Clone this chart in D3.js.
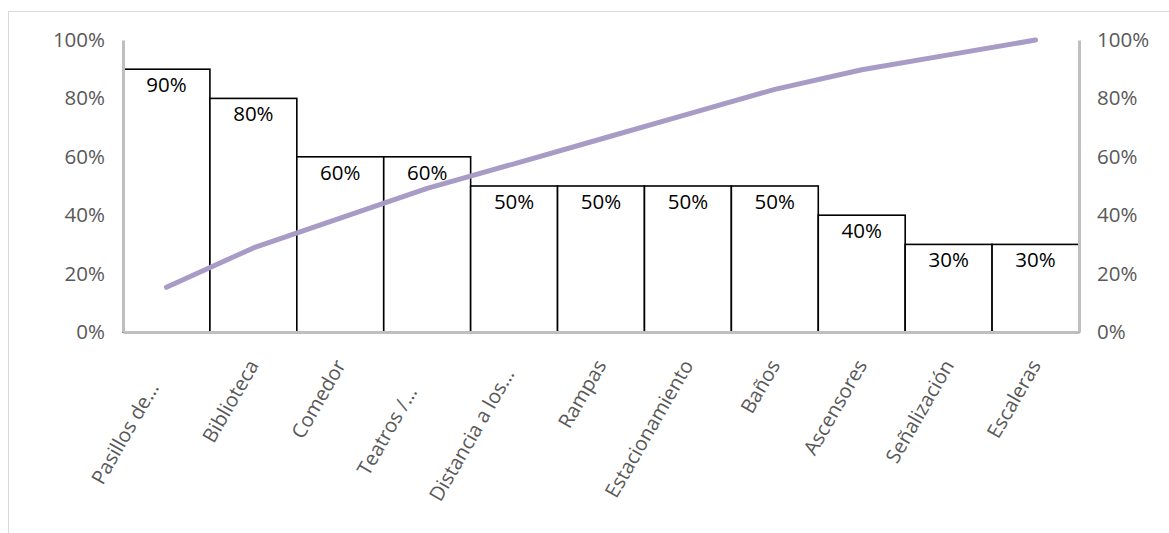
<!DOCTYPE html>
<html>
<head>
<meta charset="utf-8">
<script src="https://cdn.jsdelivr.net/npm/d3@7"></script>
<style>
  html, body { margin: 0; padding: 0; background: #fff; }
  svg { display: block; font-family: "Open Sans", sans-serif; }
</style>
</head>
<body>
<svg id="chart" width="1169" height="533"></svg>
<script>
// Categories (as shown on the axis, with truncated names)
const categories = ["Pasillos de…", "Biblioteca", "Comedor", "Teatros /…", "Distancia a los…",
  "Rampas", "Estacionamiento", "Baños", "Ascensores", "Señalización", "Escaleras"];
// Bar values (percent)
const barValues = [90, 80, 60, 60, 50, 50, 50, 50, 40, 30, 30];
// Cumulative share line (percent)
const cumulativeValues = [15.3, 28.8, 39.0, 49.2, 57.6, 66.1, 74.6, 83.1, 89.8, 94.9, 100];
// Axis tick labels
const tickValues = [0, 20, 40, 60, 80, 100];

const svg = d3.select("#chart");
const W = 1169, H = 533;
const m = { left: 123, right: 1079, top: 40, bottom: 332 };
const FONT = "'Open Sans', sans-serif";

// chart frame
svg.append("rect")
  .attr("x", 8.5).attr("y", 11.5)
  .attr("width", W + 10).attr("height", H + 10)
  .attr("fill", "none").attr("stroke", "#d9d9d9").attr("stroke-width", 1);

const x = d3.scaleBand().domain(categories).range([m.left, m.right]).padding(0);
const y = d3.scaleLinear().domain([0, 100]).range([m.bottom, m.top]);
const fmt = d => d + "%";

// bars
svg.append("g").selectAll("rect").data(barValues).join("rect")
  .attr("x", (d, i) => x(categories[i]))
  .attr("y", d => y(d))
  .attr("width", x.bandwidth())
  .attr("height", d => y(0) - y(d))
  .attr("fill", "#fff").attr("stroke", "#000").attr("stroke-width", 1.6);

// bar value labels
svg.append("g").selectAll("text").data(barValues).join("text")
  .attr("x", (d, i) => x(categories[i]) + x.bandwidth() / 2)
  .attr("y", d => y(d) + 23)
  .attr("text-anchor", "middle")
  .attr("font-size", 20.5).attr("fill", "#000")
  .text(fmt);

// axes
const leftAxis = d3.axisLeft(y).tickValues(tickValues).tickFormat(fmt).tickSize(0).tickPadding(18);
const rightAxis = d3.axisRight(y).tickValues(tickValues).tickFormat(fmt).tickSize(0).tickPadding(18);
const bottomAxis = d3.axisBottom(x).tickSize(0).tickFormat("");

function styleAxis(g) {
  g.select(".domain").attr("stroke", "#bfbfbf").attr("stroke-width", 3);
  g.selectAll("text").attr("font-size", 20.5).attr("fill", "#595959").attr("font-family", FONT);
}

svg.append("g").attr("transform", `translate(0,${m.bottom})`).call(bottomAxis).call(styleAxis);
svg.append("g").attr("transform", `translate(${m.left},0)`).call(leftAxis).call(styleAxis);
svg.append("g").attr("transform", `translate(${m.right},0)`).call(rightAxis).call(styleAxis);

// category labels, rotated; truncated names sit a little further down their baseline
const truncatedShift = { "Pasillos de…": -26, "Teatros /…": -31, "Distancia a los…": -10 };
svg.append("g").selectAll("text").data(categories).join("text")
  .attr("transform", d => `translate(${x(d) + x.bandwidth() / 2 + 6},${m.bottom + 33}) rotate(-60)`)
  .attr("dx", d => truncatedShift[d] || 0)
  .attr("text-anchor", "end")
  .attr("font-size", 20).attr("fill", "#595959")
  .text(d => d);

// cumulative line
const line = d3.line()
  .x((d, i) => x(categories[i]) + x.bandwidth() / 2)
  .y(d => y(d));
svg.append("path").datum(cumulativeValues)
  .attr("d", line)
  .attr("fill", "none").attr("stroke", "#a89bc6")
  .attr("stroke-width", 5).attr("stroke-linecap", "round").attr("stroke-linejoin", "round");
</script>
</body>
</html>
